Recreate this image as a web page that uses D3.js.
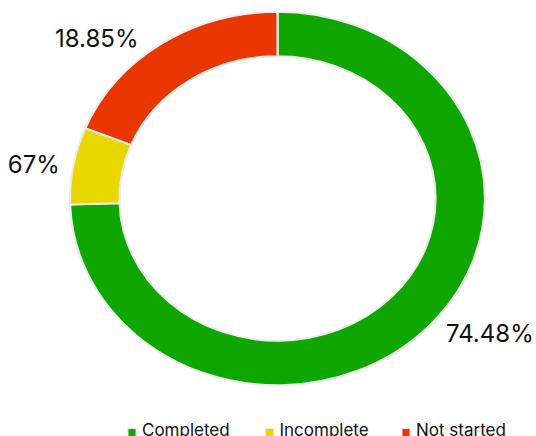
<!DOCTYPE html>
<html><head><meta charset="utf-8">
<script src="https://cdn.jsdelivr.net/npm/d3@7"></script>
<style>html,body{margin:0;padding:0;background:#fff;overflow:hidden}</style>
</head><body>
<svg id="c" width="536" height="436"></svg>
<script>
const categories = ["Completed", "Incomplete", "Not started"];
const values = [74.48, 6.67, 18.85];
const colors = ["#10a600", "#e8d800", "#ea3600"];

const W = 536, H = 436;
const cx = 277.5, cy = 198.5, R = 207.5, r = 158, sy = 0.9;
const labelNudge = [14, -6, -19];

const svg = d3.select("#c");
const defs = svg.append("defs");

const pie = d3.pie().sort(null).value(d => d)(values);
const arc = d3.arc().innerRadius(r).outerRadius(R);

const g = svg.append("g").attr("transform", `translate(${cx},${cy}) scale(1,${sy})`);
g.selectAll("path").data(pie).join("path")
  .attr("d", arc)
  .attr("fill", (d, i) => colors[i])
  .attr("stroke", "#ececec")
  .attr("stroke-width", 2.2);

const fmt = v => v.toFixed(2).replace(/\.?0+$/, "") + "%";
const lr = 215;
const labels = svg.append("g");
pie.forEach((d, i) => {
  const a = (d.startAngle + d.endAngle) / 2;
  const x = cx + lr * Math.sin(a) + labelNudge[i];
  const y = cy - lr * Math.cos(a) * sy;
  const right = Math.sin(a) > 0;
  const t = labels.append("text")
    .attr("x", x).attr("y", y)
    .attr("dy", "0.36em")
    .attr("text-anchor", right ? "start" : "end")
    .attr("font-family", "Inter, sans-serif")
    .attr("font-size", 24)
    .attr("fill", "#111")
    .text(fmt(values[i]));
  // the leftmost label overflows the chart box; clip to its box edge
  const bb = t.node().getBBox();
  if (bb.x < 0) {
    const probe = labels.append("text").attr("font-family", "Inter, sans-serif")
      .attr("font-size", 24).text("67%");
    const tail = probe.node().getComputedTextLength();
    probe.remove();
    const id = "clip" + i;
    defs.append("clipPath").attr("id", id).append("rect")
      .attr("x", x - tail - 0.5).attr("y", 0).attr("width", W).attr("height", H);
    t.attr("clip-path", `url(#${id})`);
  }
});

const legX = d3.scaleOrdinal().domain(categories).range([128, 265.5, 402]);
const leg = svg.append("g");
categories.forEach((c, i) => {
  const x = legX(c);
  leg.append("rect").attr("x", x).attr("y", 428.5).attr("width", 8).attr("height", 8)
    .attr("fill", colors[i]).attr("stroke", "#e6e6e6").attr("stroke-width", 1);
  leg.append("text").attr("x", x + 14).attr("y", 435.5)
    .attr("font-family", "Inter, sans-serif").attr("font-size", 17)
    .attr("fill", "#111").text(c);
});
</script>
</body></html>
